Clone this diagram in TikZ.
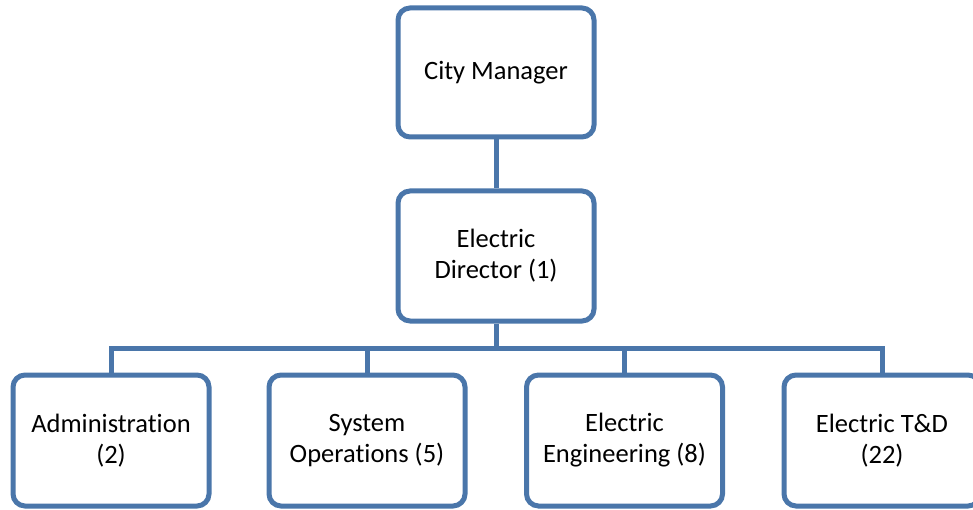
\documentclass[tikz,border=0pt]{standalone}
\usepackage{fontspec}
\setmainfont[Ligatures=NoCommon]{Carlito}
\usepackage{tikz}
\usetikzlibrary{positioning}
\definecolor{orgblue}{RGB}{74,118,170}

\begin{document}
\begin{tikzpicture}[x=1pt,y=-1pt,
  box/.style={draw=orgblue, line width=5pt, rounded corners=12pt, fill=white,
    minimum width=196pt, minimum height=129pt, align=center, inner sep=0pt,
    font=\fontsize{26.5}{31}\selectfont},
  link/.style={draw=orgblue, line width=5pt}]
\useasboundingbox (0,0) rectangle (973,510);
% top of the chart
\node[box] (cm) at (496,72.5) {City Manager};
\node[box, minimum height=130pt] (ed) at (496,256) {Electric\\Director (1)};
% divisions
\node[box, minimum height=131pt] (adm) at (111,440.5) {Administration\\(2)};
\node[box, minimum height=131pt] (sys) at (367,440.5) {System\\Operations (5)};
\node[box, minimum height=131pt] (eng) at (624.5,440.5) {Electric\\Engineering (8)};
\node[box, minimum height=131pt] (td) at (882,440.5) {Electric T\&D\\(22)};
\coordinate (bus) at (496,348);
% connectors
\draw[link] (cm) -- (ed);
\draw[link] (ed) -- (bus);
\foreach \n in {adm,sys,eng,td}
  \draw[link] (bus) -| (\n);
\end{tikzpicture}
\end{document}
